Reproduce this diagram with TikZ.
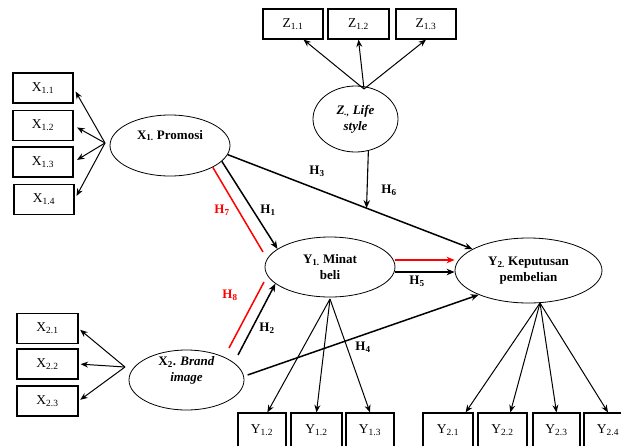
\documentclass[tikz,border=0pt]{standalone}
\usepackage{fontspec}
\setmainfont{Liberation Serif}
\usetikzlibrary{shapes.geometric,arrows.meta,calc}
\begin{document}
\begin{tikzpicture}[x=1pt,y=-1pt,
  box/.style={draw,line width=1.2pt,minimum width=60pt,minimum height=30pt,inner sep=0pt,font=\fontsize{13.5}{15}\selectfont},
  ell/.style={draw,ellipse,line width=0.8pt,inner sep=0pt,align=center,font=\fontsize{13}{16}\selectfont\bfseries},
  etxt/.style={font=\fontsize{13}{16}\selectfont\bfseries,align=center},
  meas/.style={line width=1pt,-{Stealth[length=7.5pt,width=6pt]}},
  hyp/.style={line width=1.5pt,-{Stealth[length=8pt,width=6.5pt]}},
  hyr/.style={line width=1.5pt,red},
  hlab/.style={font=\fontsize{13}{15}\selectfont\bfseries,inner sep=1pt},
]
\useasboundingbox (0,0) rectangle (621,445);
\clip (0,0) rectangle (621,445);

% indicator boxes
\node[box] (x11) at (43,88) {X\textsubscript{1.1}};
\node[box] (x12) at (43,125.5) {X\textsubscript{1.2}};
\node[box] (x13) at (43,162) {X\textsubscript{1.3}};
\node[box] (x14) at (44,199.5) {X\textsubscript{1.4}};
\node[box] (z11) at (293,24) {Z\textsubscript{1.1}};
\node[box,minimum width=61pt] (z12) at (358.5,24) {Z\textsubscript{1.2}};
\node[box] (z13) at (426,24) {Z\textsubscript{1.3}};
\node[box,minimum width=61pt] (x21) at (47.5,328.5) {X\textsubscript{2.1}};
\node[box,minimum width=61pt] (x22) at (47.5,364) {X\textsubscript{2.2}};
\node[box,minimum width=61pt] (x23) at (47.5,401) {X\textsubscript{2.3}};
\node[box,minimum width=48pt,minimum height=34pt] (y11) at (262,430) {Y\textsubscript{1.2}};
\node[box,minimum width=51pt,minimum height=34pt] (y12) at (316.5,430) {Y\textsubscript{1.2}};
\node[box,minimum width=48pt,minimum height=34pt] (y13) at (370,430) {Y\textsubscript{1.3}};
\node[box,minimum width=50pt,minimum height=34pt] (y21) at (448,430) {Y\textsubscript{2.1}};
\node[box,minimum width=49pt,minimum height=34pt] (y22) at (502.5,430) {Y\textsubscript{2.2}};
\node[box,minimum width=47pt,minimum height=34pt] (y23) at (556.5,430) {Y\textsubscript{2.3}};
\node[box,minimum width=48pt,minimum height=34pt] (y24) at (608,430) {Y\textsubscript{2.4}};

% latent variables
\node[ell,minimum width=120pt,minimum height=61pt,
  label={[etxt,yshift=10pt]center:X\textsubscript{1.} Promosi}] (x1) at (170,145.5) {};
\node[ell,minimum width=85pt,minimum height=66pt] (z) at (355.5,119) {\textit{Z\textsubscript{.,} Life}\\\textit{style}};
\node[ell,minimum width=130pt,minimum height=60pt] (y1) at (330,267) {Y\textsubscript{1.} Minat\\beli};
\node[ell,minimum width=147pt,minimum height=65pt] (y2) at (528.5,270.5) {Y\textsubscript{2.} Keputusan\\pembelian};
\node[ell,minimum width=115pt,minimum height=60pt,
  label={[etxt,yshift=10pt]center:{X\textsubscript{2}. \textit{Brand}\\\textit{image}}}] (x2) at (186.5,380) {};

% measurement arrows
\coordinate (x1f) at (105,143);
\foreach \b in {x11,x12,x13,x14} \draw[meas,shorten >=4pt] (x1f) -- (\b.east);
\coordinate (x2f) at (125,367);
\foreach \b in {x21,x22,x23} \draw[meas,shorten >=2pt] (x2f) -- (\b.east);
\coordinate (zf) at (364,89);
\draw[meas] (zf) -- (z11.-56);
\draw[meas] (zf) -- (z12.south);
\draw[meas] (zf) -- (z13.south);
\coordinate (y1f) at (330,299);
\draw[meas] (y1f) -- (y11.73);
\draw[meas] (y1f) -- (y12.north);
\draw[meas] (y1f) -- (y13.north);
\coordinate (y2f) at (540,303);
\draw[meas] (y2f) -- (y21.45);
\draw[meas] (y2f) -- (y22.66);
\draw[meas] (y2f) -- (y23.north);
\draw[meas] (y2f) -- (y24.north);

% structural paths
\draw[hyp] (x1.-9) -- (y2.159);
\coordinate (m6) at ($(x1.-9)!0.567!(y2.159)$);
\draw[hyp,line width=1.1pt] (z.-68) -- (m6);
\draw[hyp] (x1.-17) -- (y1.161);
\coordinate (h7e) at (263,252);
\draw[hyr] (x1.-27) -- (h7e);
\coordinate (h2s) at (238,355);
\draw[hyp] (h2s) -- (y1.-163);
\coordinate (h8s) at (229,348);
\coordinate (h8e) at (264,282);
\draw[hyr] (h8s) -- (h8e);
\draw[hyp] ([xshift=4pt]x2.5) -- (y2.-154);
\draw[hyp,red] ([yshift=7pt]y1.east) -- ([yshift=10.5pt]y2.west);
\draw[hyp] ([yshift=-5pt]y1.east) -- ([yshift=-1.5pt]y2.west);

% labels
\node[hlab] (l3) at (317,171) {H\textsubscript{3}};
\node[hlab] (l6) at (389,190) {H\textsubscript{6}};
\node[hlab,red] (l7) at (222,210) {H\textsubscript{7}};
\node[hlab] (l1) at (268,210) {H\textsubscript{1}};
\node[hlab,red] (l8) at (230,295) {H\textsubscript{8}};
\node[hlab] (l2) at (267,328) {H\textsubscript{2}};
\node[hlab] (l4) at (363,347) {H\textsubscript{4}};
\node[hlab] (l5) at (417,281) {H\textsubscript{5}};
\end{tikzpicture}
\end{document}
